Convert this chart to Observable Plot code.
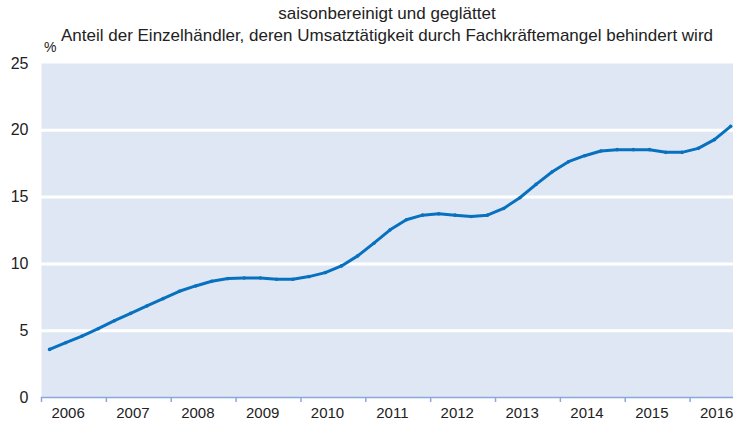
<!DOCTYPE html>
<html>
<head>
<meta charset="utf-8">
<script src="https://cdn.jsdelivr.net/npm/d3@7"></script>
<script src="https://cdn.jsdelivr.net/npm/@observablehq/plot@0.6"></script>
<style>
  html, body { margin: 0; padding: 0; background: #fff; }
  body { font-family: "Liberation Sans", Arial, sans-serif; color: #222; width: 733px; height: 427px; overflow: hidden; }
  #head { position: relative; height: 47px; padding-left: 41px; text-align: center; font-size: 17px; line-height: 22px; }
  #head .t1 { padding-top: 3px; }
  #pct { position: absolute; left: 44px; top: 40px; font-size: 14px; line-height: 15px; }
</style>
</head>
<body>
<div id="head">
  <div class="t1">saisonbereinigt und geglättet</div>
  <div class="t2">Anteil der Einzelhändler, deren Umsatztätigkeit durch Fachkräftemangel behindert wird</div>
  <span id="pct">%</span>
</div>
<div id="chart"></div>
<script>
// Quarterly observations, 2006 Q1 – 2016 Q3
const startYear = 2006;
const values = [
  3.6, 4.1, 4.6, 5.15,
  5.75, 6.3, 6.85, 7.4,
  7.95, 8.35, 8.7, 8.9,
  8.95, 8.95, 8.85, 8.85,
  9.05, 9.35, 9.85, 10.6,
  11.55, 12.55, 13.3, 13.65,
  13.75, 13.65, 13.55, 13.65,
  14.15, 14.95, 15.95, 16.9,
  17.65, 18.1, 18.45, 18.55,
  18.55, 18.55, 18.35, 18.35,
  18.65, 19.3, 20.3
];
const yearTicks = [2006, 2007, 2008, 2009, 2010, 2011, 2012, 2013, 2014, 2015, 2016];
const yearLabels = ["2006", "2007", "2008", "2009", "2010", "2011", "2012", "2013", "2014", "2015", "2016"];
const yTicks = [0, 5, 10, 15, 20, 25];
const gridValues = [5, 10, 15, 20];

const data = values.map((v, i) => ({
  t: startYear + Math.floor(i / 4) + ((i % 4) + 0.5) / 4,
  v
}));
const labelData = yearTicks.map((y, i) => ({x: y + 0.41, label: yearLabels[i]}));

const lineColor = "#0871bf";
const chart = Plot.plot({
  width: 733,
  height: 380,
  marginTop: 16,
  marginBottom: 30,
  marginLeft: 41,
  marginRight: 0,
  style: {fontFamily: "'Liberation Sans', Arial, sans-serif", fontSize: "15px", color: "#222", background: "transparent", overflow: "visible"},
  x: {domain: [2006, 2006 + 692 / 64.86], axis: null},
  y: {domain: [0, 25], axis: null},
  marks: [
    Plot.frame({fill: "#dfe7f4", stroke: null}),
    Plot.ruleY(gridValues, {stroke: "#ffffff", strokeWidth: 3}),
    Plot.axisY(yTicks, {tickSize: 0, tickPadding: 13, fontSize: 16, fill: "#222", label: null}),
    Plot.axisX(yearTicks, {tickSize: 5, stroke: "#8aa8dc", strokeWidth: 1.5, tickFormat: () => "", label: null}),
    Plot.ruleY([0], {stroke: "#8aa8dc", strokeWidth: 1.5}),
    Plot.text(labelData, {x: "x", text: "label", frameAnchor: "bottom", dy: 20, fontSize: 15, fill: "#222"}),
    Plot.line(data, {x: "t", y: "v", stroke: lineColor, strokeWidth: 3, strokeLinejoin: "round"}),
    Plot.dot(data, {x: "t", y: "v", r: 1.8, fill: lineColor, stroke: null})
  ]
});
document.getElementById("chart").appendChild(chart);
</script>
</body>
</html>
